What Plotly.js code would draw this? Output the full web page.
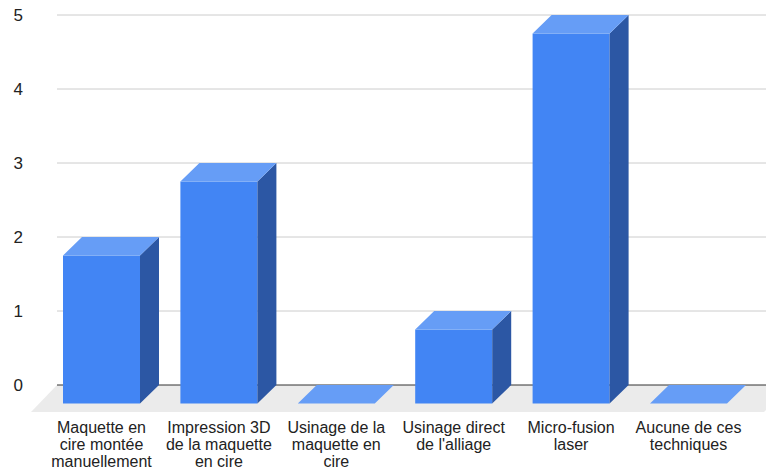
<!DOCTYPE html>
<html><head><meta charset="utf-8">
<script src="https://cdn.plot.ly/plotly-3.0.1.min.js"></script>
<style>html,body{margin:0;padding:0;background:#fff}#chart{width:766px;height:470px}</style>
</head><body><div id="chart"></div>
<script>
// ---- data ----
const categories = [
  "Maquette en cire montée manuellement",
  "Impression 3D de la maquette en cire",
  "Usinage de la maquette en cire",
  "Usinage direct de l'alliage",
  "Micro-fusion laser",
  "Aucune de ces techniques"
];
const labelLines = [
  ["Maquette en", "cire montée", "manuellement"],
  ["Impression 3D", "de la maquette", "en cire"],
  ["Usinage de la", "maquette en", "cire"],
  ["Usinage direct", "de l'alliage"],
  ["Micro-fusion", "laser"],
  ["Aucune de ces", "techniques"]
];
const values = [2, 3, 0, 1, 5, 0];
const yTicks = [0, 1, 2, 3, 4, 5];
const yTickText = ["0", "1", "2", "3", "4", "5"];

// ---- layout geometry (pixels -> data units) ----
const W = 766, H = 470, L = 26;
const PX_CAT = 117.4, PX_UNIT = 74;
const X0PX = 120.5, Y0PX = 385;
const toX = px => (px - X0PX) / PX_CAT;
const toY = py => (Y0PX - py) / PX_UNIT;
const halfW = 38.5 / PX_CAT;
const dX = 19 / PX_CAT, dY = 18.5 / PX_UNIT;
const fDX = 26 / PX_CAT, fDY = 27 / PX_UNIT;
const gridX0 = toX(57), gridX1 = toX(790);

const FONT = '"Liberation Sans", Arial, sans-serif';
const traces = [];

// floor
traces.push({
  x: [gridX0, gridX1, gridX1 - fDX, gridX0 - fDX, gridX0],
  y: [0, 0, -fDY, -fDY, 0],
  mode: 'lines', fill: 'toself', fillcolor: '#ebebeb',
  line: {width: 0, color: 'rgba(0,0,0,0)'}, hoverinfo: 'skip'
});

// gridlines
yTicks.forEach(v => {
  traces.push({
    x: [gridX0, gridX1], y: [v, v], mode: 'lines',
    line: {color: v === 0 ? '#333333' : '#cccccc', width: 1},
    hoverinfo: 'skip'
  });
});

// bars
const fx = [], fy = [], tx = [], ty = [], sx = [], sy = [];
values.forEach((v, i) => {
  const fl = i - dX - halfW, fr = i - dX + halfW;
  const bl = i - halfW, br = i + halfW;
  fx.push(fl, fr, fr, fl, fl, null); fy.push(-dY, -dY, v - dY, v - dY, -dY, null);
  tx.push(fl, fr, br, bl, fl, null); ty.push(v - dY, v - dY, v, v, v - dY, null);
  sx.push(fr, br, br, fr, fr, null); sy.push(-dY, 0, v, v - dY, -dY, null);
});
const face = (x, y, c) => ({x, y, mode: 'lines', fill: 'toself', fillcolor: c,
  line: {width: 0, color: c}, hoverinfo: 'skip', connectgaps: false});
traces.push(face(fx, fy, '#4285f4'));
traces.push(face(sx, sy, '#2c57a4'));
traces.push(face(tx, ty, '#669df6'));

// category labels
const lx = [], ly = [], lt = [];
labelLines.forEach((lines, i) => {
  lines.forEach((t, j) => {
    lx.push(i - dX); ly.push(toY(429.4 + 16.7 * j)); lt.push(t);
  });
});
traces.push({x: lx, y: ly, text: lt, mode: 'text', textposition: 'middle center',
  textfont: {family: FONT, size: 16, color: '#222222'}, hoverinfo: 'skip', cliponaxis: false});

const layout = {
  width: W, height: H,
  margin: {l: L, r: 0, t: 0, b: 0, pad: 0},
  paper_bgcolor: '#ffffff', plot_bgcolor: '#ffffff',
  showlegend: false, hovermode: false,
  xaxis: {range: [toX(L), toX(W)], showgrid: false, zeroline: false,
    showticklabels: false, showline: false, ticks: '', fixedrange: true},
  yaxis: {range: [toY(H), toY(0)], showgrid: false, zeroline: false, showline: false,
    ticks: '', tickvals: yTicks, ticktext: yTickText, ticklabelstandoff: 2,
    tickfont: {family: FONT, size: 17, color: '#222222'}, fixedrange: true}
};
Plotly.newPlot('chart', traces, layout, {displayModeBar: false, staticPlot: true});
</script>
</body></html>
